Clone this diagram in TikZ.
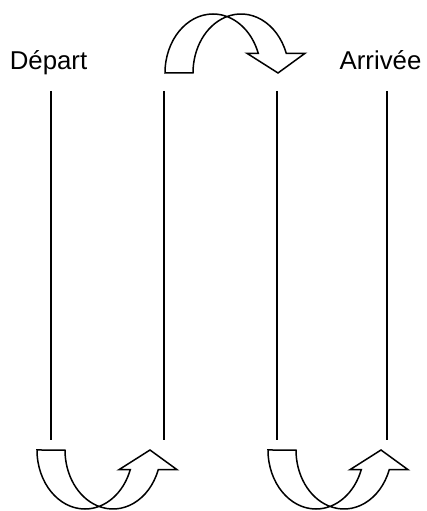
\documentclass[tikz,border=0pt]{standalone}
\usepackage{fontspec}
\setmainfont{Liberation Sans}

\begin{document}
\begin{tikzpicture}[
    x=1pt, y=1pt,
    labelnode/.style={anchor=base, inner sep=0pt, font=\fontsize{25.8}{30}\selectfont},
    sideline/.style={line width=1.6pt},
    turnarrow/.style={draw=black, fill=white, line width=1.5pt, line join=miter},
    pics/uturn/.style={code={
      \draw [turnarrow] (0,0) arc [start angle=180, end angle=19.47, x radius=48pt, y radius=59pt]
        -- (82,19.67) -- (113,0) -- (140,19.67) -- (121.25,19.67)
        arc [start angle=19.47, end angle=180, x radius=48pt, y radius=59pt] -- cycle;
    }}
    ]
    \useasboundingbox (0,0) rectangle (426,511);

    \node [labelnode] (depart) at (48.5,441) {Départ};
    \node [labelnode] (arrivee) at (380.5,441) {Arrivée};

    \coordinate (a1) at (51,420);
    \coordinate (a2) at (51,71);
    \coordinate (b1) at (164,420);
    \coordinate (b2) at (164,71);
    \coordinate (c1) at (277,420);
    \coordinate (c2) at (277,71);
    \coordinate (e1) at (387,420);
    \coordinate (e2) at (387,71);

    \draw [sideline] (a1) -- (a2);
    \draw [sideline] (b1) -- (b2);
    \draw [sideline] (c1) -- (c2);
    \draw [sideline] (e1) -- (e2);

    \pic (uptop) at (165,438) {uturn};
    \pic [yscale=-1] (downleft) at (37,61) {uturn};
    \pic [yscale=-1] (downright) at (268,61) {uturn};
\end{tikzpicture}
\end{document}
